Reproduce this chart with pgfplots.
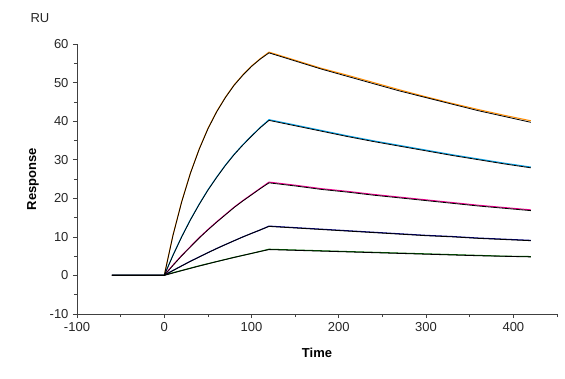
\documentclass[border=0pt]{standalone}
\usepackage{fontspec}
\setmainfont{Liberation Sans}
\usepackage{pgfplots}
\pgfplotsset{compat=1.18}
\begin{document}
\begin{tikzpicture}[x=1pt,y=1pt]
\begin{axis}[
  name=ax,
  scale only axis, width=480pt, height=270pt,
  xmin=-100, xmax=450, ymin=-10, ymax=60,
  axis x line*=bottom, axis y line*=left,
  axis line style={black!75, line width=0.8pt},
  xtick={-100,0,100,200,300,400}, ytick={-10,0,10,20,30,40,50,60},
  minor xtick={-50,50,150,250,350,450}, minor ytick={-5,5,15,25,35,45,55},
  tick align=outside, major tick length=4pt, minor tick length=3pt,
  tick style={black!75, line width=0.7pt},
  ticklabel style={font=\fontsize{13}{15}\selectfont, text=black!85},
  yticklabel style={xshift=-1pt},
  xticklabel style={yshift=-1pt},
  /pgf/number format/assume math mode=true,
  xlabel={\textbf{Time}}, ylabel={\textbf{Response}},
  label style={font=\fontsize{13}{15}\selectfont},
  xlabel style={at={(ticklabel cs:0.5)}, anchor=center, yshift=-18pt},
  ylabel style={at={(axis description cs:0,0.5)}, anchor=center, xshift=0pt, yshift=44pt},
  clip=false,
]
% raw data (coloured)
\addplot[orange!90!yellow, line width=1pt] coordinates {(-60,0.1)(-30,0.1)(0,0.1)(10,10.5)(20,19.2)(30,26.6)(40,32.8)(50,38.1)(60,42.5)(70,46.2)(80,49.4)(90,52.0)(100,54.3)(110,56.2)(120,57.9)(150,55.8)(180,53.7)(210,51.9)(240,50.0)(270,48.1)(300,46.3)(330,44.6)(360,43.0)(390,41.5)(420,40.1)};
\addplot[cyan!90!blue, line width=1pt] coordinates {(-60,0.1)(-30,0.1)(0,0.1)(10,5.3)(20,10.1)(30,14.5)(40,18.5)(50,22.2)(60,25.5)(70,28.6)(80,31.4)(90,33.9)(100,36.2)(110,38.4)(120,40.4)(150,39.0)(180,37.6)(210,36.2)(240,34.9)(270,33.7)(300,32.5)(330,31.3)(360,30.2)(390,29.1)(420,28.1)};
\addplot[magenta, line width=1pt] coordinates {(-60,0.1)(-30,0.1)(0,0.1)(10,2.7)(20,5.2)(30,7.5)(40,9.8)(50,11.9)(60,13.9)(70,15.8)(80,17.7)(90,19.4)(100,21.0)(110,22.6)(120,24.2)(150,23.4)(180,22.5)(210,21.8)(240,21.0)(270,20.3)(300,19.6)(330,18.9)(360,18.2)(390,17.6)(420,17.0)};
\addplot[blue!50!black, line width=1pt] coordinates {(-60,0.1)(-30,0.1)(0,0.1)(10,1.3)(20,2.5)(30,3.7)(40,4.8)(50,5.9)(60,7.0)(70,8.0)(80,9.0)(90,10.0)(100,10.9)(110,11.8)(120,12.8)(150,12.4)(180,12.0)(210,11.6)(240,11.2)(270,10.8)(300,10.4)(330,10.1)(360,9.7)(390,9.4)(420,9.1)};
\addplot[green!40!black, line width=1pt] coordinates {(-60,0.1)(-30,0.1)(0,0.1)(20,1.3)(40,2.5)(60,3.6)(80,4.7)(100,5.7)(120,6.8)(150,6.6)(180,6.4)(210,6.2)(240,6.0)(270,5.8)(300,5.6)(330,5.4)(360,5.2)(390,5.0)(420,4.9)};
% fits (black)
\addplot[black, line width=0.8pt] coordinates {(-60,0)(0,0)(10,10.4)(20,19.1)(30,26.5)(40,32.7)(50,38.0)(60,42.4)(70,46.1)(80,49.3)(90,51.9)(100,54.2)(110,56.1)(120,57.7)(150,55.6)(180,53.5)(210,51.6)(240,49.7)(270,47.8)(300,46.1)(330,44.4)(360,42.7)(390,41.2)(420,39.7)};
\addplot[black, line width=0.8pt] coordinates {(0,0)(10,5.2)(20,10.0)(30,14.4)(40,18.4)(50,22.1)(60,25.4)(70,28.5)(80,31.3)(90,33.8)(100,36.1)(110,38.3)(120,40.2)(150,38.8)(180,37.4)(210,36.0)(240,34.7)(270,33.5)(300,32.3)(330,31.1)(360,30.0)(390,28.9)(420,27.9)};
\addplot[black, line width=0.8pt] coordinates {(0,0)(10,2.6)(20,5.1)(30,7.4)(40,9.7)(50,11.8)(60,13.8)(70,15.7)(80,17.6)(90,19.3)(100,20.9)(110,22.5)(120,24.0)(150,23.2)(180,22.3)(210,21.6)(240,20.8)(270,20.1)(300,19.4)(330,18.7)(360,18.0)(390,17.4)(420,16.8)};
\addplot[black, line width=0.8pt] coordinates {(0,0)(10,1.25)(20,2.47)(30,3.64)(40,4.78)(50,5.89)(60,6.95)(70,7.99)(80,8.99)(90,9.96)(100,10.9)(110,11.8)(120,12.7)(150,12.3)(180,11.9)(210,11.5)(240,11.1)(270,10.7)(300,10.3)(330,10.0)(360,9.6)(390,9.3)(420,9.0)};
\addplot[black, line width=0.8pt] coordinates {(0,0)(20,1.24)(40,2.43)(60,3.57)(80,4.66)(100,5.71)(120,6.7)(150,6.5)(180,6.3)(210,6.1)(240,5.9)(270,5.7)(300,5.5)(330,5.3)(360,5.1)(390,4.95)(420,4.8)};
\end{axis}
\node[font=\fontsize{13}{15}\selectfont, text=black!85, anchor=base] at ([xshift=-37pt,yshift=22pt]ax.north west) {RU};
\pgfresetboundingbox
\path[use as bounding box] ([xshift=-77pt,yshift=-64pt]ax.south west) rectangle ([xshift=8pt,yshift=44pt]ax.north east);
\end{tikzpicture}
\end{document}
